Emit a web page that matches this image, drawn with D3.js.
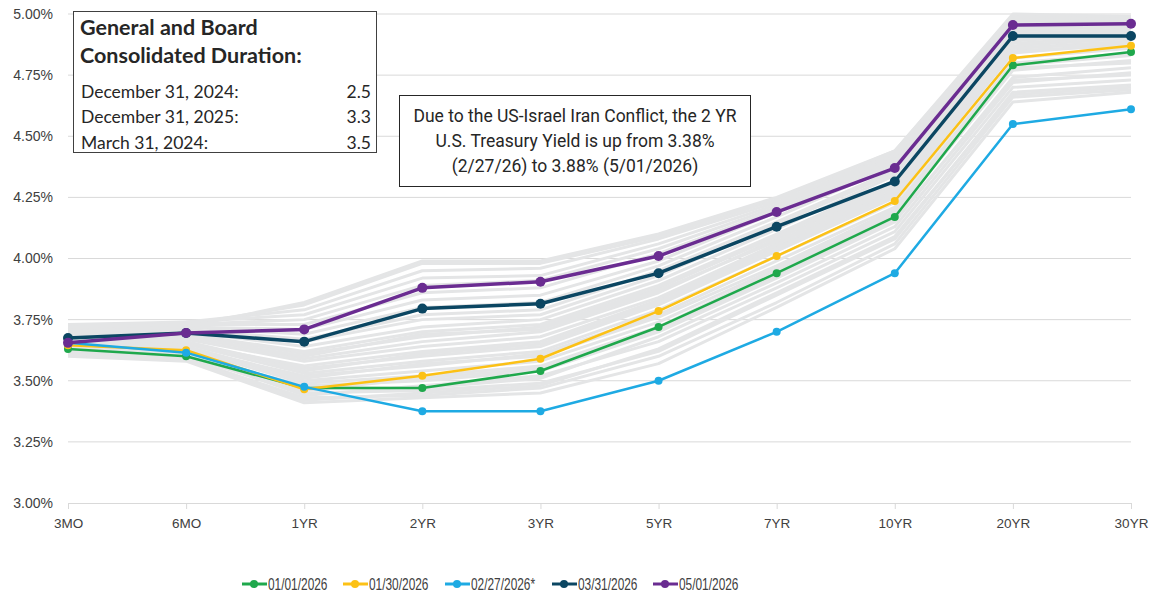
<!DOCTYPE html>
<html><head><meta charset="utf-8">
<script src="https://cdn.jsdelivr.net/npm/d3@7"></script>
<style>
html,body{margin:0;padding:0;background:#fff;}
svg{display:block;}
</style></head>
<body><svg id="c" width="1152" height="596"></svg>
<script>
const tenors = ["3MO","6MO","1YR","2YR","3YR","5YR","7YR","10YR","20YR","30YR"];
const yTicks = [3.00,3.25,3.50,3.75,4.00,4.25,4.50,4.75,5.00];

const seriesNames = ["01/01/2026","01/30/2026","02/27/2026*","03/31/2026","05/01/2026"];
const seriesColors = ["#1fa84c","#fcc115","#1eaae3","#0b4662","#6a2c91"];
const s0101 = [3.63,3.60,3.47,3.47,3.54,3.72,3.94,4.17,4.79,4.845];
const s0130 = [3.645,3.625,3.465,3.52,3.59,3.785,4.01,4.235,4.82,4.87];
const s0227 = [3.655,3.615,3.475,3.375,3.375,3.50,3.70,3.94,4.55,4.61];
const s0331 = [3.675,3.695,3.66,3.795,3.815,3.94,4.13,4.315,4.91,4.91];
const s0501 = [3.655,3.695,3.71,3.88,3.905,4.01,4.19,4.37,4.955,4.96];

const grayCurves = [
 [3.60,3.58,3.41,3.43,3.45,3.57,3.80,4.04,4.64,4.68],
 [3.61,3.59,3.43,3.44,3.47,3.60,3.82,4.06,4.66,4.69],
 [3.62,3.60,3.45,3.46,3.49,3.62,3.85,4.08,4.68,4.71],
 [3.63,3.61,3.44,3.48,3.52,3.66,3.88,4.11,4.70,4.73],
 [3.64,3.62,3.47,3.47,3.51,3.68,3.90,4.13,4.72,4.76],
 [3.62,3.60,3.48,3.50,3.54,3.70,3.92,4.15,4.74,4.78],
 [3.65,3.63,3.49,3.52,3.56,3.72,3.95,4.18,4.77,4.81],
 [3.66,3.64,3.50,3.54,3.58,3.74,3.96,4.19,4.79,4.83],
 [3.64,3.63,3.52,3.56,3.61,3.77,3.99,4.21,4.80,4.84],
 [3.67,3.65,3.53,3.58,3.62,3.79,4.01,4.23,4.82,4.86],
 [3.68,3.66,3.55,3.60,3.64,3.81,4.03,4.25,4.84,4.88],
 [3.66,3.65,3.56,3.62,3.66,3.83,4.05,4.27,4.86,4.89],
 [3.69,3.67,3.58,3.64,3.68,3.84,4.06,4.28,4.87,4.90],
 [3.67,3.68,3.59,3.66,3.70,3.86,4.08,4.30,4.88,4.91],
 [3.70,3.69,3.61,3.68,3.72,3.88,4.09,4.31,4.89,4.92],
 [3.68,3.69,3.62,3.70,3.73,3.89,4.10,4.32,4.90,4.92],
 [3.71,3.70,3.64,3.72,3.75,3.91,4.12,4.34,4.91,4.93],
 [3.69,3.71,3.66,3.75,3.77,3.93,4.14,4.35,4.92,4.94],
 [3.72,3.71,3.67,3.77,3.79,3.95,4.15,4.36,4.93,4.95],
 [3.70,3.72,3.69,3.80,3.82,3.97,4.17,4.38,4.94,4.95],
 [3.72,3.72,3.71,3.83,3.85,3.99,4.19,4.39,4.95,4.96],
 [3.71,3.73,3.73,3.86,3.88,4.02,4.20,4.40,4.96,4.97],
 [3.73,3.73,3.75,3.89,3.91,4.04,4.21,4.41,4.97,4.97],
 [3.72,3.74,3.77,3.92,3.93,4.06,4.22,4.42,4.98,4.98],
 [3.73,3.74,3.79,3.95,3.96,4.08,4.23,4.43,4.99,4.98],
 [3.72,3.73,3.81,3.98,3.98,4.09,4.24,4.44,4.99,4.99],
 [3.70,3.72,3.82,3.99,3.99,4.10,4.25,4.44,5.00,4.99],
 [3.63,3.62,3.46,3.51,3.55,3.71,3.93,4.16,4.73,4.75],
 [3.65,3.64,3.51,3.57,3.60,3.76,3.97,4.20,4.78,4.80],
 [3.67,3.66,3.54,3.61,3.65,3.82,4.04,4.26,4.85,4.87],
 [3.61,3.59,3.42,3.45,3.48,3.63,3.86,4.09,4.67,4.70],
 [3.69,3.68,3.60,3.69,3.71,3.87,4.07,4.29,4.86,4.88]
];

const boxTitle = ["General and Board","Consolidated Duration:"];
const durLabels = ["December 31, 2024:","December 31, 2025:","March 31, 2024:"];
const durValues = ["2.5","3.3","3.5"];
const noteLines = ["Due to the US-Israel Iran Conflict, the 2 YR","U.S. Treasury Yield is up from 3.38%","(2/27/26) to 3.88% (5/01/2026)"];

const seriesData = [s0101,s0130,s0227,s0331,s0501];

const svg = d3.select("#c");
const x = d3.scalePoint().domain(tenors).range([68,1131]);
const y = d3.scaleLinear().domain([3,5]).range([503,14]);
const axisFont = "'Liberation Sans', Arial, sans-serif";

// gridlines
svg.append("g").selectAll("line").data(yTicks.filter(v=>v>3)).join("line")
  .attr("x1",68).attr("x2",1131).attr("y1",d=>y(d)).attr("y2",d=>y(d))
  .attr("stroke","#d9d9d9").attr("stroke-width",1);

// y axis labels
const ya = svg.append("g").attr("transform","translate(68,0)")
  .call(d3.axisLeft(y).tickValues(yTicks).tickSize(0).tickPadding(15).tickFormat(d=>d3.format(".2f")(d)+"%"));
ya.select(".domain").remove();
ya.selectAll("text").attr("font-family",axisFont).attr("font-size",14).attr("fill","#404040");

// x axis
const xa = svg.append("g").attr("transform","translate(0,503)")
  .call(d3.axisBottom(x).tickSize(6).tickPadding(9));
xa.select(".domain").attr("stroke","#d9d9d9");
xa.selectAll(".tick line").attr("stroke","#d9d9d9");
xa.selectAll("text").attr("font-family",axisFont).attr("font-size",13.5).attr("fill","#404040");

const line = d3.line().x((d,i)=>x(tenors[i])).y(d=>y(d));

svg.append("g").selectAll("path").data(grayCurves).join("path")
  .attr("d",line).attr("fill","none").attr("stroke","#e4e5e6").attr("stroke-width",3).attr("stroke-linejoin","round");

const widths = [2.5,2.5,2.5,3.5,3.5];
const radii = [4,4,4,5,5];
seriesData.forEach((s,k)=>{
  const g = svg.append("g");
  g.append("path").attr("d",line(s)).attr("fill","none").attr("stroke",seriesColors[k]).attr("stroke-width",widths[k]).attr("stroke-linejoin","round");
  g.selectAll("circle").data(s).join("circle").attr("cx",(d,i)=>x(tenors[i])).attr("cy",d=>y(d)).attr("r",radii[k]).attr("fill",seriesColors[k]);
});

// duration box
const b = svg.append("g");
b.append("rect").attr("x",73.5).attr("y",11.5).attr("width",303).attr("height",141).attr("fill","#fff").attr("stroke","#404040").attr("stroke-width",1);
const boxFont = "Lato, 'Open Sans', sans-serif";
b.selectAll("text.t").data(boxTitle).join("text").attr("class","t")
  .attr("x",80).attr("y",(d,i)=>35+i*27.5).text(d=>d)
  .attr("font-family",boxFont).attr("font-weight","bold").attr("font-size",21.5).attr("fill","#262626");
b.selectAll("text.l").data(durLabels).join("text").attr("class","l")
  .attr("x",81).attr("y",(d,i)=>97.5+i*25.5).text(d=>d)
  .attr("font-family",boxFont).attr("font-size",17.5).attr("fill","#262626");
b.selectAll("text.v").data(durValues).join("text").attr("class","v")
  .attr("x",371).attr("text-anchor","end").attr("y",(d,i)=>97.5+i*25.5).text(d=>d)
  .attr("font-family",boxFont).attr("font-size",17.5).attr("fill","#262626");

// note box
const n = svg.append("g");
n.append("rect").attr("x",399.5).attr("y",95.5).attr("width",351).attr("height",91).attr("fill","#fff").attr("stroke","#262626").attr("stroke-width",1);
n.selectAll("text").data(noteLines).join("text")
  .attr("x",575).attr("y",(d,i)=>122+i*25).attr("text-anchor","middle").text(d=>d)
  .attr("font-family","Roboto, sans-serif").attr("font-size",17.5).attr("fill","#262626");

// legend
const legX = [242,343,445,552,653];
const lg = svg.append("g");
seriesNames.forEach((nm,k)=>{
  const g = lg.append("g").attr("transform",`translate(${legX[k]},584)`);
  g.append("line").attr("x1",0).attr("x2",25).attr("stroke",seriesColors[k]).attr("stroke-width",3);
  g.append("circle").attr("cx",12).attr("r",4).attr("fill",seriesColors[k]);
  const t = g.append("text").attr("x",26).attr("dy","0.36em").text(nm)
   .attr("font-family",axisFont).attr("font-size",16.5).attr("fill","#404040");
  const w = t.node().getComputedTextLength();
  t.attr("textLength",w*0.72).attr("lengthAdjust","spacingAndGlyphs");
});
</script></body></html>
